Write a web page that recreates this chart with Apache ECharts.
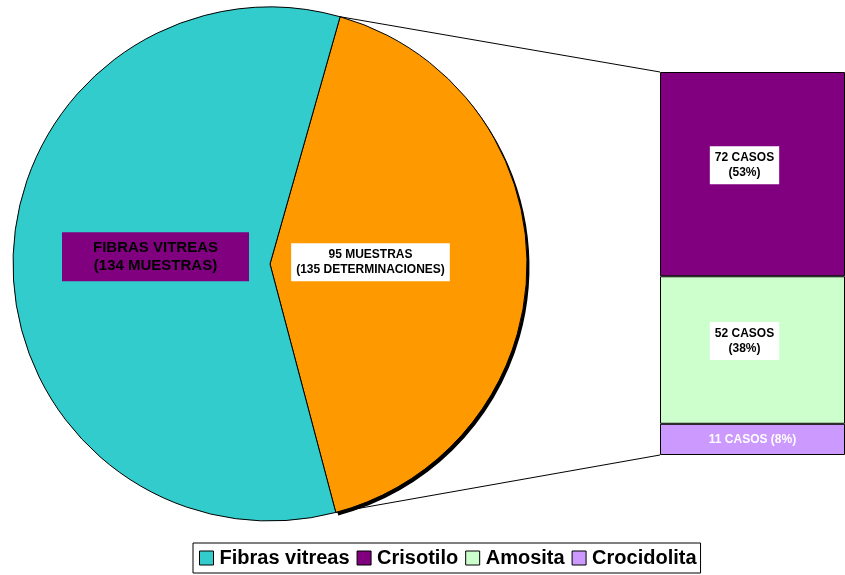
<!DOCTYPE html>
<html><head><meta charset="utf-8">
<script src="https://cdn.jsdelivr.net/npm/echarts@6/dist/echarts.min.js"></script>
<style>html,body{margin:0;padding:0;background:#fff}#c{width:845px;height:575px}</style>
</head><body><div id="c"></div>
<script>
// ---- data ----
const pieNames = ['95 muestras', 'Fibras vitreas'];
const pieValues = [95, 134];
const barNames = ['Crisotilo', 'Amosita', 'Crocidolita'];
const barValues = [72, 52, 11];
const barPercents = [53, 38, 8];
const legendItems = ['Fibras vitreas', 'Crisotilo', 'Amosita', 'Crocidolita'];

// ---- layout ----
const CX = 270, CY = 264, R = 257;
const GRID_LEFT = 660, GRID_TOP = 72, GRID_BOTTOM = 120;
const colors = { 'Fibras vitreas': '#33CCCC', '95 muestras': '#FF9900', 'Crisotilo': '#800080', 'Amosita': '#CCFFCC', 'Crocidolita': '#CC99FF' };
const FONT = 'Liberation Sans, Arial, sans-serif';

const pieTotal = pieValues.reduce((a, b) => a + b, 0);
const barTotal = barValues.reduce((a, b) => a + b, 0);
const halfSpan = pieValues[0] / pieTotal * 180;
const startAngle = halfSpan - 0.5; // "other" slice centred on the bar side

const chart = echarts.init(document.getElementById('c'), null, { renderer: 'canvas' });

const barSeries = [];
// stack from bottom: Crocidolita, Amosita, Crisotilo
for (let i = barNames.length - 1; i >= 0; i--) {
  const isSmall = i === barNames.length - 1;
  barSeries.push({
    type: 'bar', name: barNames[i], stack: 'b', barWidth: '100%',
    data: [barValues[i]],
    itemStyle: { color: colors[barNames[i]], borderColor: '#000', borderWidth: 1 },
    label: isSmall ? {
      show: true, position: 'inside', color: '#fff', fontWeight: 'bold', fontSize: 12, fontFamily: FONT,
      formatter: barValues[i] + ' CASOS (' + barPercents[i] + '%)'
    } : {
      show: true, position: 'inside', color: '#000', fontWeight: 'bold', fontSize: 12, fontFamily: FONT,
      backgroundColor: '#fff', padding: [5, 5, 3, 5], lineHeight: 15, align: 'center',
      offset: [-8, -9],
      formatter: barValues[i] + ' CASOS\n(' + barPercents[i] + '%)'
    }
  });
}

chart.setOption({
  animation: false,
  legend: {
    data: legendItems, left: 193, top: 543, orient: 'horizontal',
    padding: [5, 4, 5, 6], itemGap: 7, itemWidth: 14, itemHeight: 14, icon: 'rect',
    borderColor: '#000', borderWidth: 1,
    itemStyle: { borderColor: '#000', borderWidth: 1 },
    textStyle: { fontSize: 20, fontWeight: 'bold', color: '#000', fontFamily: FONT, padding: [0, 0, 0, 1] }
  },
  grid: { left: GRID_LEFT, right: 0, top: GRID_TOP, bottom: GRID_BOTTOM },
  xAxis: { type: 'category', data: [''], show: false },
  yAxis: { type: 'value', min: 0, max: barTotal, show: false },
  series: [
    {
      type: 'pie', center: [CX, CY], radius: R, startAngle: startAngle, clockwise: true, z: 3,
      data: [
        {
          name: pieNames[0], value: pieValues[0],
          itemStyle: { color: colors[pieNames[0]], borderColor: '#000', borderWidth: 1 },
          label: {
            show: true, position: 'inside', color: '#000', fontWeight: 'bold', fontSize: 12, fontFamily: FONT,
            backgroundColor: '#fff', padding: [5, 5, 3, 5], lineHeight: 15, align: 'center',
            offset: [-31, -3],
            formatter: pieValues[0] + ' MUESTRAS\n(' + barTotal + ' DETERMINACIONES)'
          }
        },
        {
          name: pieNames[1], value: pieValues[1],
          itemStyle: { color: colors[pieNames[1]], borderColor: '#000', borderWidth: 1 },
          label: {
            show: true, position: 'inside', color: '#000', fontWeight: 'bold', fontSize: 15, fontFamily: FONT,
            backgroundColor: '#800080', padding: [7, 31, 6, 31], lineHeight: 18, align: 'center',
            offset: [17, -6],
            formatter: pieNames[1].toUpperCase() + '\n(' + pieValues[1] + ' MUESTRAS)'
          }
        }
      ],
      labelLine: { show: false },
      emphasis: { disabled: true }
    },
    {
      // drop shadow of the exploded slice (same data, offset)
      type: 'pie', center: [CX + 2.5, CY + 3], radius: R, startAngle: startAngle, clockwise: true, z: 1,
      silent: true, legendHoverLink: false,
      data: [
        { name: pieNames[0] + ' ', value: pieValues[0], itemStyle: { color: '#000' } },
        { name: pieNames[1] + ' ', value: pieValues[1], itemStyle: { color: 'rgba(0,0,0,0)' } }
      ],
      label: { show: false }, labelLine: { show: false },
      emphasis: { disabled: true }
    }
  ].concat(barSeries)
});

// connector lines from the "other" slice edges to the bar corners
function drawConnectors() {
  const a1 = startAngle * Math.PI / 180;
  const a2 = (startAngle - pieValues[0] / pieTotal * 360) * Math.PI / 180;
  const p1 = [CX + R * Math.cos(a1), CY - R * Math.sin(a1)];
  const p2 = [CX + R * Math.cos(a2), CY - R * Math.sin(a2)];
  const yTop = chart.convertToPixel({ yAxisIndex: 0 }, barTotal);
  const yBot = chart.convertToPixel({ yAxisIndex: 0 }, 0);
  chart.setOption({
    graphic: [
      { type: 'line', shape: { x1: p1[0], y1: p1[1], x2: GRID_LEFT, y2: yTop }, style: { stroke: '#000', lineWidth: 1 }, z: 10 },
      { type: 'line', shape: { x1: p2[0], y1: p2[1], x2: GRID_LEFT, y2: yBot }, style: { stroke: '#000', lineWidth: 1 }, z: 10 }
    ]
  });
}
drawConnectors();
</script>
</body></html>
